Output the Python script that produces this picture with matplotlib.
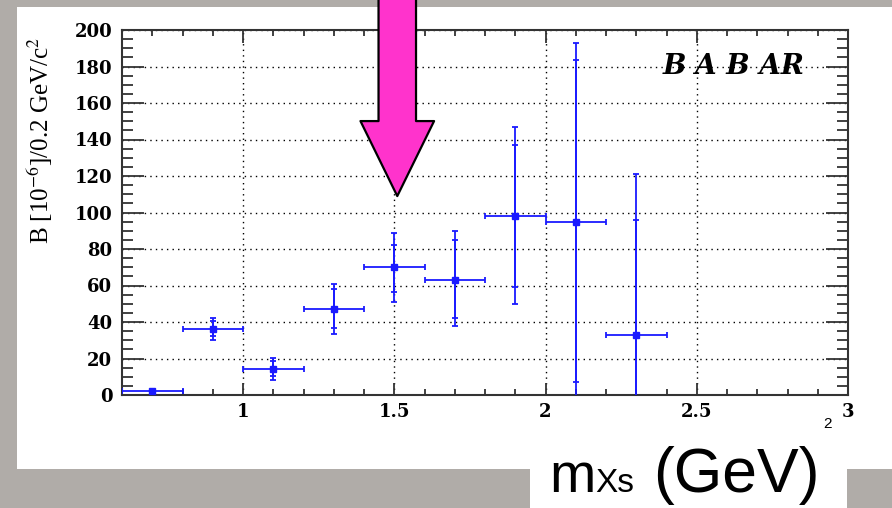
import matplotlib

matplotlib.use("Agg")
import matplotlib.pyplot as plt
import numpy as np
from matplotlib.patches import Rectangle
from matplotlib.ticker import FuncFormatter, MultipleLocator

# bin centres (GeV) and measured branching fraction per bin
m_xs = [0.7, 0.9, 1.1, 1.3, 1.5, 1.7, 1.9, 2.1, 2.3]
bin_half_width = [0.1] * 9
values = [2, 36, 14, 47, 70, 63, 98, 95, 33]
# total (stat+syst) error bounds
total_low = [1, 30, 8.2, 33.4, 51, 37.6, 49.9, -5, -55]
total_high = [3, 42.3, 20.4, 60.6, 88.8, 89.9, 147, 192.9, 121]
# statistical error bounds
stat_low = [1.5, 32.5, 10.2, 36.9, 56.6, 42.4, 59.3, 7, -30]
stat_high = [2.5, 40.5, 18.8, 57.9, 82, 84.9, 136.8, 183.6, 96]

W, H = 892, 508
GRAY = "#b0aca8"
BLUE = "#1a1aff"
PINK = "#ff33cc"


def px(x, y):
    """Pixel position (from top-left) to figure fraction."""
    return x / W, 1 - y / H


plt.rcParams["font.family"] = "Liberation Serif"
plt.rcParams["mathtext.fontset"] = "stix"

fig = plt.figure(figsize=(W / 100, H / 100), dpi=100)
fig.patch.set_facecolor(GRAY)

# white canvas and the white box behind the axis label
fig.add_artist(Rectangle(px(17, 469), 1 - 17 / W, (469 - 7) / H,
                         transform=fig.transFigure, fc="white", ec="none", zorder=-1))
fig.add_artist(Rectangle(px(530, 508), (847 - 530) / W, (508 - 469) / H,
                         transform=fig.transFigure, fc="white", ec="none", zorder=-1))

ax = fig.add_axes([122 / W, 1 - 395 / H, (848 - 122) / W, (395 - 30) / H])
ax.set_xlim(0.6, 3.0)
ax.set_ylim(0, 200)

vals = np.array(values)
total_err = [vals - np.array(total_low), np.array(total_high) - vals]
stat_err = [vals - np.array(stat_low), np.array(stat_high) - vals]

ax.errorbar(m_xs, values, xerr=bin_half_width, yerr=total_err, fmt="s",
            color=BLUE, ms=4, lw=1.3, capsize=2, capthick=1.3, zorder=3)
ax.errorbar(m_xs, values, yerr=stat_err, fmt="none",
            color=BLUE, lw=1.3, capsize=2, capthick=1.3, zorder=3)

ax.xaxis.set_major_locator(MultipleLocator(0.5))
ax.xaxis.set_minor_locator(MultipleLocator(0.1))
ax.yaxis.set_major_locator(MultipleLocator(20))
ax.yaxis.set_minor_locator(MultipleLocator(5))
ax.xaxis.set_major_formatter(FuncFormatter(lambda v, p: "%g" % v))

ax.tick_params(which="both", direction="in", top=True, right=True,
               color="#333333", width=1.3)
ax.tick_params(axis="x", which="major", length=9, pad=6, labelsize=13)
ax.tick_params(axis="x", which="minor", length=4.5)
ax.tick_params(axis="y", which="major", length=16, pad=7, labelsize=13)
ax.tick_params(axis="y", which="minor", length=8)
for lbl in ax.get_xticklabels() + ax.get_yticklabels():
    lbl.set_fontweight("bold")
    lbl.set_family("DejaVu Serif")

for s in ax.spines.values():
    s.set_color("#333333")
    s.set_linewidth(1.5)

ax.grid(which="major", color="black", linestyle=(0, (1, 3)), linewidth=1)
ax.set_axisbelow(True)

ax.text(0.94, 0.9, "B A B AR", transform=ax.transAxes, ha="right", va="center",
        fontsize=20, fontweight="bold", fontstyle="italic", family="DejaVu Serif")

# big pink arrow pointing at the 1.5 GeV bin
ax.annotate("", xy=(1.51, 109), xycoords="data",
            xytext=(1.51, 1.02), textcoords=("data", "figure fraction"),
            arrowprops=dict(arrowstyle="simple,head_length=5.4,head_width=5.3,tail_width=2.7",
                            mutation_scale=10, fc=PINK, ec="black", lw=1.6,
                            shrinkA=0, shrinkB=0),
            annotation_clip=False, zorder=5)

fig.text(*px(40, 140), r"B [10$^{-6}$]/0.2 GeV/c$^{2}$", rotation=90,
         ha="center", va="center", fontsize=18)
fig.text(*px(828, 424), "2", fontsize=11, ha="center", va="center",
         family="Liberation Sans")

# axis label in big sans type
fig.text(*px(549, 492), "m", fontsize=40, family="Liberation Sans", va="baseline")
fig.text(*px(595, 492), "Xs", fontsize=24, family="Liberation Sans", va="baseline")
fig.text(*px(653, 492), "(GeV)", fontsize=45, family="Liberation Sans", va="baseline")

fig.savefig("out.png", dpi=100, facecolor=fig.get_facecolor())
